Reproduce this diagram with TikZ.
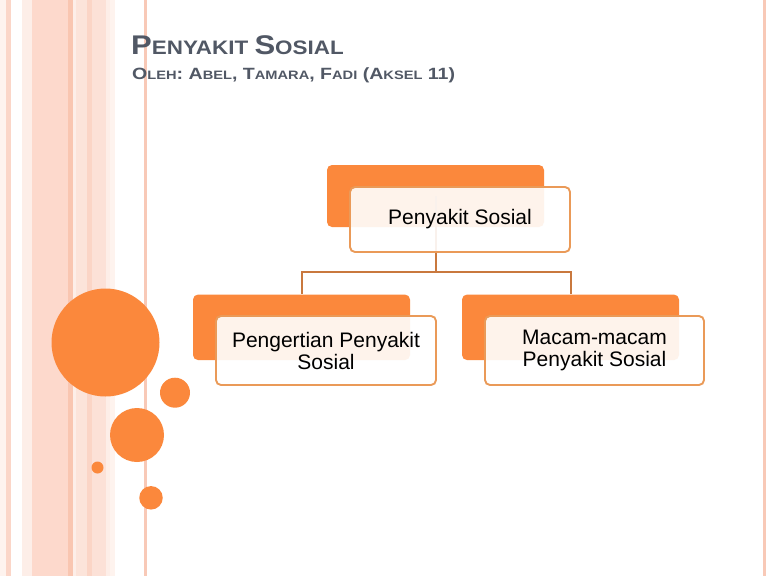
\documentclass[tikz,border=0pt]{standalone}
\usepackage{fontspec}
\setmainfont{Liberation Sans}
\newfontfamily\titlefont[FakeStretch=1.15]{Liberation Sans Bold}
\newfontfamily\subfont[FakeStretch=1.2]{Liberation Sans Bold}
\definecolor{orng}{HTML}{FB883C}
\definecolor{bordr}{HTML}{EA9A58}
\definecolor{connc}{HTML}{C9783E}
\definecolor{titlec}{HTML}{515865}
\definecolor{sA}{HTML}{FBD6C8}
\definecolor{sB}{HTML}{FDEEE8}
\definecolor{sC}{HTML}{FDD9CC}
\definecolor{sD}{HTML}{F9C6B1}
\definecolor{sE}{HTML}{FCE4DA}
\definecolor{sF}{HTML}{FBD5C6}
\definecolor{sG}{HTML}{FCE1D7}
\definecolor{sH}{HTML}{FEF3EE}
\definecolor{sL}{HTML}{F8C9B7}
\newcommand\bigsc[2]{{\fontsize{#1}{#1}\selectfont #2}}
\tikzset{
  backbox/.style={fill=orng, draw=none, rounded corners=5pt, minimum width=217pt},
  frontbox/.style={fill=white, fill opacity=0.9, text opacity=1, draw=bordr, line width=1.9pt, rounded corners=5pt, minimum width=220pt, align=center, font=\fontsize{21}{22}\selectfont},
  conn/.style={draw=connc, line width=2pt},
  dot/.style={circle, fill=orng, draw=none, inner sep=0pt}
}
\begin{document}
\begin{tikzpicture}[x=1pt,y=-1pt]
\useasboundingbox (0,0) rectangle (768,576);
\fill[white] (0,0) rectangle (768,576);
% left stripes
\fill[sH] (0,0) rectangle (6,576);
\fill[sA] (6,0) rectangle (11,576);
\fill[sB] (22,0) rectangle (32,576);
\fill[sC] (32,0) rectangle (68,576);
\fill[sD] (68,0) rectangle (73,576);
\fill[sB] (73,0) rectangle (76,576);
\fill[sE] (76,0) rectangle (87,576);
\fill[sF] (87,0) rectangle (92,576);
\fill[sG] (92,0) rectangle (106,576);
\fill[sB] (106,0) rectangle (110,576);
\fill[sH] (110,0) rectangle (115,576);
\fill[sL] (144.2,0) rectangle (146.6,576);
% right line
\fill[sL] (763,0) rectangle (765.8,576);
% circles
\node[dot, minimum size=108pt] (c1) at (105.5,342.5) {};
\node[dot, minimum size=30pt] (c2) at (175,392.7) {};
\node[dot, minimum size=54pt] (c3) at (137,435) {};
\node[dot, minimum size=12pt] (c4) at (97.5,467.5) {};
\node[dot, minimum size=23.5pt] (c5) at (151,497.8) {};
% title
\node[anchor=base west, inner sep=0pt, text=titlec, font=\titlefont] (title) at (131,54.5)
  {\bigsc{27}{P}\bigsc{19.5}{ENYAKIT }\bigsc{27}{S}\bigsc{19.5}{OSIAL}};
\node[anchor=base west, inner sep=0pt, text=titlec, font=\subfont] (subtitle) at (132,79.3)
  {\bigsc{16.3}{O}\bigsc{12.2}{LEH}\bigsc{16.3}{: A}\bigsc{12.2}{BEL}\bigsc{16.3}{, T}\bigsc{12.2}{AMARA}\bigsc{16.3}{, F}\bigsc{12.2}{ADI}\bigsc{16.3}{ (A}\bigsc{12.2}{KSEL}\bigsc{16.3}{ 11)}};
% back boxes
\node[backbox, minimum height=62pt] (tb) at (435.5,196) {};
\node[backbox, minimum height=65.5pt] (lb) at (301.5,327.3) {};
\node[backbox, minimum height=65.5pt] (rb) at (570.5,327.3) {};
% connectors
\coordinate (hy) at (435.5,272);
\draw[conn] (tb.center) -- (hy);
\draw[conn] (hy) -| (lb.north);
\draw[conn] (hy) -| (rb.north);
% front boxes
\node[frontbox, minimum height=65pt] (tf) at (460,219.5) {Penyakit Sosial};
\node[frontbox, minimum height=69pt] (lf) at (326,350.5) {Pengertian Penyakit\\Sosial};
\node[frontbox, minimum height=69pt, minimum width=219pt] (rf) at (594.5,350.5) {Macam-macam\\Penyakit Sosial};
\end{tikzpicture}
\end{document}
